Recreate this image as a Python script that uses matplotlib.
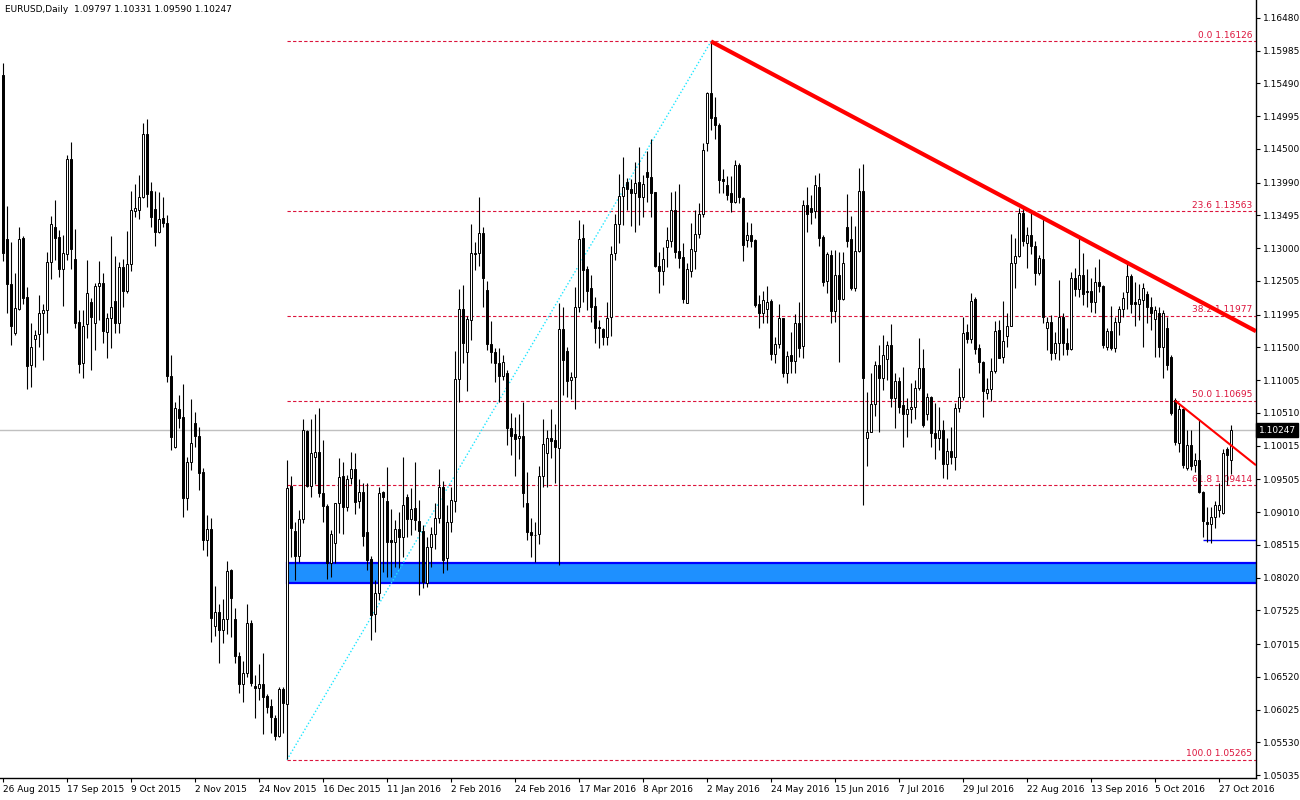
import numpy as np
import matplotlib
matplotlib.use("Agg")
import matplotlib.pyplot as plt
from matplotlib.patches import Rectangle
import matplotlib.transforms as mtransforms

# EURUSD daily candles, 26 Aug 2015 .. 1 Nov 2016
opens = [
    1.1562, 1.1314, 1.1246, 1.1172, 1.1208, 1.1316, 1.1226, 1.1124, 1.1163, 1.1170,
    1.1202, 1.1206, 1.1279, 1.1332, 1.1317, 1.1269, 1.1291, 1.1435, 1.1284, 1.1188,
    1.1127, 1.1185, 1.1219, 1.1187, 1.1243, 1.1247, 1.1173, 1.1194, 1.1220, 1.1187,
    1.1272, 1.1235, 1.1276, 1.1356, 1.1358, 1.1377, 1.1473, 1.1387, 1.1359, 1.1325,
    1.1346, 1.1338, 1.1107, 1.1000, 1.1057, 1.1045, 1.0923, 1.0977, 1.1036, 1.1016,
    1.0961, 1.0859, 1.0876, 1.0729, 1.0750, 1.0722, 1.0740, 1.0814, 1.0740, 1.0684,
    1.0641, 1.0658, 1.0734, 1.0638, 1.0635, 1.0641, 1.0623, 1.0608, 1.0589, 1.0563,
    1.0633, 1.0611, 1.0941, 1.0873, 1.0835, 1.0891, 1.1024, 1.0941, 1.0985, 1.0992,
    1.0930, 1.0910, 1.0824, 1.0855, 1.0914, 1.0956, 1.0909, 1.0953, 1.0966, 1.0918,
    1.0932, 1.0871, 1.0830, 1.0747, 1.0779, 1.0932, 1.0918, 1.0859, 1.0856, 1.0875,
    1.0863, 1.0924, 1.0891, 1.0907, 1.0888, 1.0873, 1.0794, 1.0848, 1.0868, 1.0892,
    1.0939, 1.0832, 1.0886, 1.0918, 1.1102, 1.1208, 1.1143, 1.1192, 1.1293, 1.1293,
    1.1323, 1.1237, 1.1155, 1.1143, 1.1127, 1.1106, 1.1112, 1.1028, 1.1019, 1.1013,
    1.1016, 1.0914, 1.0871, 1.0867, 1.0868, 1.0956, 1.0991, 1.1013, 1.1010, 1.0998,
    1.1178, 1.1145, 1.1101, 1.1105, 1.1211, 1.1316, 1.1268, 1.1240, 1.1212, 1.1181,
    1.1178, 1.1166, 1.1196, 1.1293, 1.1337, 1.1379, 1.1400, 1.1389, 1.1383, 1.1400,
    1.1377, 1.1415, 1.1408, 1.1385, 1.1273, 1.1266, 1.1302, 1.1311, 1.1358, 1.1296,
    1.1287, 1.1217, 1.1266, 1.1296, 1.1321, 1.1352, 1.1459, 1.1535, 1.1498, 1.1486,
    1.1405, 1.1396, 1.1384, 1.1370, 1.1426, 1.1376, 1.1312, 1.1320, 1.1312, 1.1216,
    1.1202, 1.1208, 1.1220, 1.1140, 1.1155, 1.1194, 1.1111, 1.1139, 1.1130, 1.1187,
    1.1152, 1.1366, 1.1360, 1.1356, 1.1393, 1.1317, 1.1250, 1.1289, 1.1205, 1.1260,
    1.1223, 1.1332, 1.1314, 1.1240, 1.1296, 1.1387, 1.1013, 1.1022, 1.1065, 1.1124,
    1.1104, 1.1133, 1.1154, 1.1074, 1.1099, 1.1063, 1.1049, 1.1057, 1.1060, 1.1089,
    1.1119, 1.1049, 1.1075, 1.1021, 1.1013, 1.1025, 1.0974, 1.0994, 1.0985, 1.1059,
    1.1075, 1.1174, 1.1163, 1.1223, 1.1149, 1.1128, 1.1081, 1.1087, 1.1114, 1.1176,
    1.1136, 1.1167, 1.1182, 1.1278, 1.1288, 1.1353, 1.1308, 1.1320, 1.1304, 1.1262,
    1.1284, 1.1180, 1.1188, 1.1142, 1.1157, 1.1196, 1.1157, 1.1148, 1.1255, 1.1238,
    1.1259, 1.1235, 1.1235, 1.1218, 1.1249, 1.1243, 1.1151, 1.1175, 1.1149, 1.1188,
    1.1208, 1.1234, 1.1258, 1.1218, 1.1216, 1.1222, 1.1231, 1.1211, 1.1193, 1.1202,
    1.1151, 1.1180, 1.1135, 1.1071, 1.1005, 1.1057, 1.0968, 1.1002, 1.0972, 1.0980,
    1.0932, 1.0886, 1.0883, 1.0893, 1.0904, 1.0900, 1.0997, 1.0980,
]
highs = [
    1.1580, 1.1364, 1.1309, 1.1263, 1.1332, 1.1319, 1.1241, 1.1187, 1.1176, 1.1229,
    1.1216, 1.1294, 1.1349, 1.1373, 1.1328, 1.1320, 1.1441, 1.1461, 1.1329, 1.1206,
    1.1206, 1.1282, 1.1225, 1.1248, 1.1281, 1.1263, 1.1202, 1.1318, 1.1288, 1.1279,
    1.1284, 1.1326, 1.1387, 1.1397, 1.1411, 1.1489, 1.1495, 1.1400, 1.1387, 1.1385,
    1.1377, 1.1350, 1.1139, 1.1068, 1.1078, 1.1095, 1.0985, 1.1072, 1.1053, 1.1030,
    1.0968, 1.0897, 1.0892, 1.0790, 1.0762, 1.0770, 1.0827, 1.0815, 1.0756, 1.0690,
    1.0676, 1.0762, 1.0738, 1.0655, 1.0671, 1.0688, 1.0626, 1.0619, 1.0595, 1.0637,
    1.0636, 1.0980, 1.0956, 1.0886, 1.0904, 1.1042, 1.1025, 1.1042, 1.1050, 1.1059,
    1.1010, 1.0913, 1.0874, 1.0915, 1.0983, 1.0976, 1.0957, 1.0992, 1.0990, 1.0951,
    1.0945, 1.0945, 1.0835, 1.0799, 1.0939, 1.0933, 1.0969, 1.0905, 1.0889, 1.0901,
    1.0985, 1.0928, 1.0937, 1.0976, 1.0920, 1.0882, 1.0863, 1.0879, 1.0915, 1.0966,
    1.0948, 1.0912, 1.0939, 1.1145, 1.1238, 1.1244, 1.1198, 1.1337, 1.1309, 1.1377,
    1.1332, 1.1250, 1.1190, 1.1149, 1.1149, 1.1139, 1.1116, 1.1051, 1.1045, 1.1049,
    1.1068, 1.0961, 1.0892, 1.0886, 1.0971, 1.1042, 1.1025, 1.1057, 1.1034, 1.1217,
    1.1211, 1.1151, 1.1113, 1.1241, 1.1343, 1.1337, 1.1273, 1.1260, 1.1226, 1.1191,
    1.1179, 1.1219, 1.1303, 1.1352, 1.1412, 1.1438, 1.1406, 1.1405, 1.1430, 1.1453,
    1.1411, 1.1447, 1.1465, 1.1385, 1.1294, 1.1302, 1.1332, 1.1385, 1.1387, 1.1397,
    1.1308, 1.1278, 1.1338, 1.1358, 1.1368, 1.1459, 1.1536, 1.1613, 1.1528, 1.1489,
    1.1420, 1.1409, 1.1409, 1.1433, 1.1429, 1.1377, 1.1340, 1.1338, 1.1314, 1.1229,
    1.1235, 1.1243, 1.1223, 1.1166, 1.1216, 1.1194, 1.1145, 1.1173, 1.1201, 1.1219,
    1.1373, 1.1393, 1.1380, 1.1411, 1.1414, 1.1320, 1.1294, 1.1297, 1.1297, 1.1294,
    1.1294, 1.1382, 1.1348, 1.1334, 1.1421, 1.1427, 1.1083, 1.1112, 1.1130, 1.1154,
    1.1169, 1.1160, 1.1186, 1.1112, 1.1105, 1.1121, 1.1074, 1.1096, 1.1101, 1.1164,
    1.1148, 1.1081, 1.1077, 1.1066, 1.1060, 1.1040, 1.1013, 1.1030, 1.1066, 1.1119,
    1.1196, 1.1186, 1.1232, 1.1226, 1.1155, 1.1130, 1.1103, 1.1134, 1.1190, 1.1191,
    1.1220, 1.1202, 1.1322, 1.1315, 1.1361, 1.1361, 1.1332, 1.1353, 1.1311, 1.1290,
    1.1349, 1.1196, 1.1199, 1.1173, 1.1252, 1.1202, 1.1179, 1.1264, 1.1270, 1.1318,
    1.1293, 1.1269, 1.1255, 1.1272, 1.1284, 1.1245, 1.1180, 1.1212, 1.1196, 1.1213,
    1.1234, 1.1278, 1.1261, 1.1249, 1.1246, 1.1247, 1.1236, 1.1226, 1.1213, 1.1211,
    1.1207, 1.1196, 1.1139, 1.1074, 1.1063, 1.1059, 1.1025, 1.1025, 1.0990, 1.1040,
    1.0933, 1.0909, 1.0909, 1.0918, 1.0945, 1.0997, 1.0999, 1.1033,
]
lows = [
    1.1280, 1.1202, 1.1154, 1.1169, 1.1207, 1.1216, 1.1087, 1.1090, 1.1121, 1.1151,
    1.1131, 1.1172, 1.1253, 1.1282, 1.1257, 1.1213, 1.1282, 1.1269, 1.1179, 1.1112,
    1.1104, 1.1164, 1.1116, 1.1146, 1.1192, 1.1157, 1.1134, 1.1149, 1.1172, 1.1172,
    1.1211, 1.1232, 1.1265, 1.1347, 1.1344, 1.1376, 1.1362, 1.1332, 1.1303, 1.1323,
    1.1332, 1.1098, 1.0995, 1.0998, 1.1028, 1.0894, 1.0904, 1.0965, 1.0999, 1.0934,
    1.0844, 1.0835, 1.0705, 1.0714, 1.0673, 1.0703, 1.0716, 1.0712, 1.0673, 1.0628,
    1.0614, 1.0652, 1.0638, 1.0590, 1.0617, 1.0566, 1.0598, 1.0567, 1.0557, 1.0561,
    1.0567, 1.0527, 1.0833, 1.0799, 1.0826, 1.0885, 1.0939, 1.0924, 1.0944, 1.0924,
    1.0886, 1.0800, 1.0803, 1.0824, 1.0870, 1.0868, 1.0903, 1.0944, 1.0898, 1.0907,
    1.0850, 1.0814, 1.0708, 1.0719, 1.0768, 1.0811, 1.0803, 1.0803, 1.0818, 1.0816,
    1.0833, 1.0863, 1.0866, 1.0874, 1.0776, 1.0787, 1.0788, 1.0818, 1.0845, 1.0885,
    1.0809, 1.0814, 1.0871, 1.0901, 1.1068, 1.1127, 1.1084, 1.1161, 1.1267, 1.1273,
    1.1211, 1.1146, 1.1127, 1.1097, 1.1068, 1.1101, 1.1003, 1.0988, 1.0956, 1.0982,
    1.0909, 1.0859, 1.0833, 1.0826, 1.0853, 1.0939, 1.0939, 1.0983, 1.0945, 1.0821,
    1.1078, 1.1075, 1.1072, 1.1057, 1.1204, 1.1219, 1.1207, 1.1188, 1.1157, 1.1149,
    1.1154, 1.1154, 1.1167, 1.1282, 1.1308, 1.1335, 1.1358, 1.1334, 1.1324, 1.1335,
    1.1347, 1.1370, 1.1347, 1.1272, 1.1232, 1.1245, 1.1272, 1.1302, 1.1285, 1.1270,
    1.1217, 1.1217, 1.1257, 1.1269, 1.1315, 1.1347, 1.1447, 1.1479, 1.1465, 1.1383,
    1.1383, 1.1373, 1.1355, 1.1368, 1.1368, 1.1281, 1.1302, 1.1302, 1.1211, 1.1179,
    1.1187, 1.1187, 1.1131, 1.1127, 1.1149, 1.1105, 1.1096, 1.1111, 1.1111, 1.1136,
    1.1134, 1.1325, 1.1337, 1.1346, 1.1304, 1.1243, 1.1232, 1.1187, 1.1188, 1.1128,
    1.1222, 1.1302, 1.1237, 1.1235, 1.1294, 1.0912, 1.0970, 1.1022, 1.1047, 1.1022,
    1.1086, 1.1101, 1.1060, 1.1028, 1.1051, 1.1000, 1.1015, 1.1036, 1.1042, 1.1086,
    1.1030, 1.1040, 1.1000, 1.0981, 1.0995, 1.0953, 1.0951, 1.0973, 1.0965, 1.1052,
    1.1071, 1.1157, 1.1157, 1.1140, 1.1112, 1.1045, 1.1072, 1.1069, 1.1111, 1.1134,
    1.1127, 1.1151, 1.1182, 1.1240, 1.1287, 1.1303, 1.1270, 1.1291, 1.1245, 1.1259,
    1.1187, 1.1146, 1.1131, 1.1133, 1.1131, 1.1139, 1.1139, 1.1146, 1.1228, 1.1226,
    1.1214, 1.1211, 1.1203, 1.1202, 1.1234, 1.1149, 1.1146, 1.1146, 1.1143, 1.1169,
    1.1196, 1.1208, 1.1202, 1.1182, 1.1192, 1.1151, 1.1187, 1.1176, 1.1136, 1.1136,
    1.1104, 1.1116, 1.1048, 1.1003, 1.0992, 1.0968, 1.0965, 1.0965, 1.0961, 1.0930,
    1.0863, 1.0856, 1.0854, 1.0877, 1.0893, 1.0898, 1.0942, 1.0959,
]
closes = [
    1.1293, 1.1246, 1.1183, 1.1210, 1.1314, 1.1225, 1.1122, 1.1151, 1.1169, 1.1202,
    1.1206, 1.1279, 1.1337, 1.1316, 1.1269, 1.1292, 1.1435, 1.1299, 1.1187, 1.1125,
    1.1183, 1.1232, 1.1196, 1.1243, 1.1247, 1.1175, 1.1194, 1.1211, 1.1187, 1.1272,
    1.1235, 1.1276, 1.1358, 1.1361, 1.1377, 1.1473, 1.1382, 1.1347, 1.1325, 1.1344,
    1.1338, 1.1107, 1.1015, 1.1059, 1.1043, 1.0923, 1.0977, 1.1006, 1.1016, 1.0960,
    1.0859, 1.0876, 1.0741, 1.0750, 1.0722, 1.0740, 1.0812, 1.0771, 1.0684, 1.0641,
    1.0658, 1.0734, 1.0643, 1.0635, 1.0641, 1.0622, 1.0607, 1.0591, 1.0563, 1.0633,
    1.0613, 1.0938, 1.0877, 1.0835, 1.0891, 1.1025, 1.0941, 1.0991, 1.0992, 1.0930,
    1.0910, 1.0824, 1.0868, 1.0914, 1.0954, 1.0909, 1.0951, 1.0966, 1.0916, 1.0932,
    1.0865, 1.0829, 1.0745, 1.0779, 1.0930, 1.0924, 1.0856, 1.0856, 1.0875, 1.0863,
    1.0912, 1.0891, 1.0906, 1.0889, 1.0873, 1.0796, 1.0848, 1.0868, 1.0892, 1.0939,
    1.0829, 1.0886, 1.0920, 1.1102, 1.1208, 1.1157, 1.1193, 1.1293, 1.1291, 1.1323,
    1.1255, 1.1155, 1.1143, 1.1127, 1.1106, 1.1128, 1.1028, 1.1016, 1.1012, 1.1016,
    1.0930, 1.0871, 1.0867, 1.0866, 1.0956, 1.1004, 1.1013, 1.1009, 1.0999, 1.1178,
    1.1131, 1.1099, 1.1105, 1.1211, 1.1314, 1.1267, 1.1236, 1.1211, 1.1179, 1.1179,
    1.1166, 1.1195, 1.1291, 1.1337, 1.1379, 1.1392, 1.1389, 1.1383, 1.1398, 1.1377,
    1.1397, 1.1408, 1.1383, 1.1273, 1.1266, 1.1284, 1.1312, 1.1358, 1.1294, 1.1285,
    1.1223, 1.1269, 1.1299, 1.1321, 1.1352, 1.1448, 1.1535, 1.1497, 1.1486, 1.1403,
    1.1402, 1.1381, 1.1370, 1.1426, 1.1378, 1.1305, 1.1320, 1.1311, 1.1214, 1.1202,
    1.1222, 1.1218, 1.1140, 1.1155, 1.1194, 1.1111, 1.1137, 1.1130, 1.1187, 1.1149,
    1.1365, 1.1352, 1.1355, 1.1396, 1.1316, 1.1249, 1.1291, 1.1205, 1.1259, 1.1223,
    1.1278, 1.1311, 1.1240, 1.1296, 1.1387, 1.1104, 1.1022, 1.1065, 1.1124, 1.1104,
    1.1139, 1.1154, 1.1074, 1.1099, 1.1060, 1.1049, 1.1057, 1.1060, 1.1089, 1.1119,
    1.1032, 1.1075, 1.1021, 1.1013, 1.1025, 1.0974, 1.0994, 1.0985, 1.1059, 1.1075,
    1.1172, 1.1163, 1.1220, 1.1148, 1.1128, 1.1084, 1.1087, 1.1114, 1.1175, 1.1134,
    1.1160, 1.1183, 1.1278, 1.1288, 1.1353, 1.1311, 1.1320, 1.1303, 1.1262, 1.1285,
    1.1196, 1.1189, 1.1142, 1.1157, 1.1196, 1.1157, 1.1148, 1.1255, 1.1238, 1.1259,
    1.1231, 1.1234, 1.1218, 1.1249, 1.1243, 1.1154, 1.1175, 1.1149, 1.1188, 1.1208,
    1.1225, 1.1258, 1.1216, 1.1216, 1.1223, 1.1240, 1.1211, 1.1202, 1.1207, 1.1151,
    1.1202, 1.1124, 1.1051, 1.1007, 1.1057, 1.0972, 1.1002, 1.0971, 1.0980, 1.0932,
    1.0887, 1.0883, 1.0893, 1.0911, 1.0911, 1.0991, 1.0987, 1.1025,
]

date_labels = ["26 Aug 2015", "17 Sep 2015", "9 Oct 2015", "2 Nov 2015", "24 Nov 2015",
               "16 Dec 2015", "11 Jan 2016", "2 Feb 2016", "24 Feb 2016", "17 Mar 2016",
               "8 Apr 2016", "2 May 2016", "24 May 2016", "15 Jun 2016", "7 Jul 2016",
               "29 Jul 2016", "22 Aug 2016", "13 Sep 2016", "5 Oct 2016", "27 Oct 2016"]
price_ticks = [1.16480, 1.15985, 1.15490, 1.14995, 1.14500, 1.13990, 1.13495, 1.13000,
               1.12505, 1.11995, 1.11500, 1.11005, 1.10510, 1.10015, 1.09505, 1.09010,
               1.08515, 1.08020, 1.07525, 1.07015, 1.06520, 1.06025, 1.05530, 1.05035]

fib_levels = [0.0, 23.6, 38.2, 50.0, 61.8, 100.0]
fib_prices = [1.16126, 1.13563, 1.11977, 1.10695, 1.09414, 1.05265]
fib_low_bar, fib_high_bar = 71, 177

trend_main = [(177, 1.16126), (254, 1.13650)]
trend_short = [(293, 1.10695), (307, 1.10020)]
zone_bar, zone_low, zone_high = 71, 1.07940, 1.08240
support_bar, support_price = 300, 1.08585
last_price = 1.10247
header = "EURUSD,Daily  1.09797 1.10331 1.09590 1.10247"

o = np.array(opens); h = np.array(highs); l = np.array(lows); c = np.array(closes)
n = len(c)
x = np.arange(n)
x_left, x_right = -0.75, 313.25

fig = plt.figure(figsize=(13, 8), dpi=100)
ax = fig.add_axes([0, 22 / 800, 1256 / 1300, 778 / 800])
ax.set_xlim(x_left, x_right)
ax.set_ylim(1.04990, 1.16752)

# background objects
ax.axhline(last_price, color="#c0c0c0", lw=1, zorder=1)
ax.add_patch(Rectangle((zone_bar, zone_low), x_right - zone_bar + 2, zone_high - zone_low,
                       facecolor="#1e90ff", edgecolor="#0000ff", lw=1.6, zorder=1))
fib_red = "#dc143c"
ax.hlines(fib_prices, fib_low_bar, x_right, colors=fib_red, linestyles=(0, (3, 2)), lw=0.8, zorder=1)
for lvl, p in zip(fib_levels, fib_prices):
    ax.annotate(f"{lvl:.1f} {p:.5f}", xy=(312.3, p), xytext=(0, 1), textcoords="offset points",
                ha="right", va="bottom", fontsize=6.5, color=fib_red, zorder=2)
ax.plot([fib_low_bar, fib_high_bar], [fib_prices[-1], fib_prices[0]], color="#1ee6ff",
        ls=(0, (1, 1.5)), lw=1, zorder=2)
ax.hlines(support_price, support_bar, x_right, colors="#0000ff", lw=1, zorder=2)

# candles
up = c >= o
ax.vlines(x, l, h, color="black", lw=0.8, zorder=3)
body_lo = np.minimum(o, c)
body_h = np.maximum(np.abs(c - o), 0.00004)
ax.bar(x[up], body_h[up], bottom=body_lo[up], width=0.55, facecolor="white",
       edgecolor="black", lw=0.7, zorder=4)
ax.bar(x[~up], body_h[~up], bottom=body_lo[~up], width=0.55, facecolor="black",
       edgecolor="black", lw=0.7, zorder=4)

# trend lines (rays to the right edge)
for (xa, ya), (xb, yb), lw in [(trend_main[0], trend_main[1], 3.0),
                               (trend_short[0], trend_short[1], 1.5)]:
    slope = (yb - ya) / (xb - xa)
    ax.plot([xa, x_right], [ya, ya + slope * (x_right - xa)], color="#ff0000", lw=lw,
            solid_capstyle="butt", zorder=5)

# axes styling
for side in ["top", "left"]:
    ax.spines[side].set_visible(False)
ax.spines["right"].set_linewidth(1)
ax.spines["bottom"].set_linewidth(1)
ax.yaxis.tick_right()
ax.set_yticks(price_ticks)
ax.set_yticklabels([f"{v:.5f}" for v in price_ticks])
ax.set_xticks(np.arange(0, n, 16))
ax.set_xticklabels(date_labels, ha="left")
ax.tick_params(axis="both", direction="out", length=3, width=0.8, labelsize=6.5, pad=2)

trans = mtransforms.blended_transform_factory(ax.transAxes, ax.transData)
ax.text(1.002, last_price, f"{last_price:.5f}", transform=trans, ha="left", va="center",
        fontsize=6.5, color="white", zorder=10,
        bbox=dict(boxstyle="square,pad=0.3", fc="black", ec="black"))

fig.text(5 / 1300, 1 - 9 / 800, header, fontsize=6.5, va="center", ha="left")

fig.savefig("out.png", dpi=100, facecolor="white")
